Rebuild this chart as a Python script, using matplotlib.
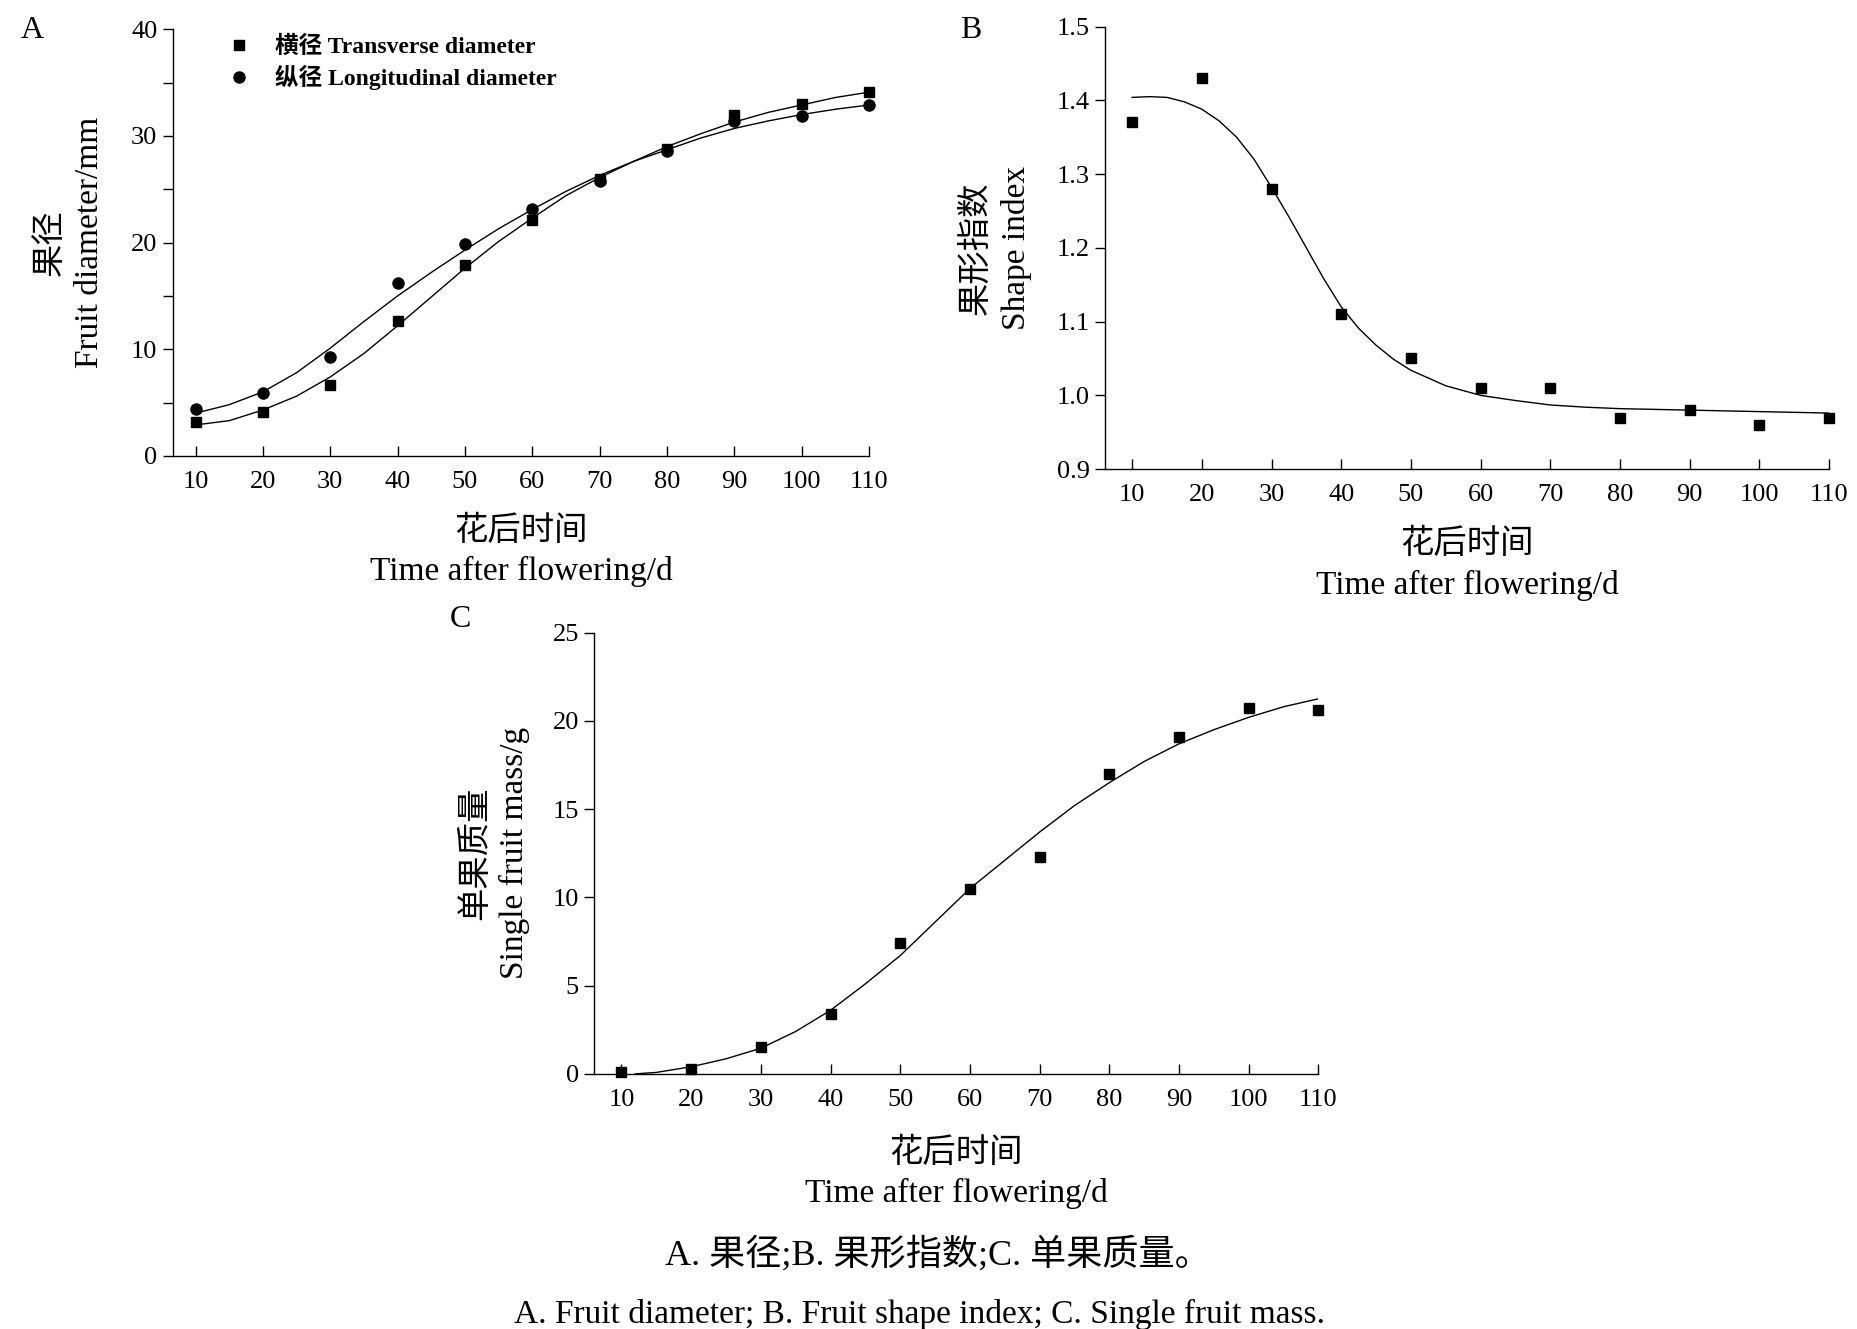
"""Fruit growth curves: diameter, shape index and single fruit mass vs days after flowering."""

import matplotlib

matplotlib.use("Agg")
import matplotlib.pyplot as plt
from matplotlib.ticker import MultipleLocator

plt.rcParams.update(
    {
        "font.family": ["Liberation Serif", "Noto Sans CJK SC"],
        "font.size": 20,
        "axes.spines.top": False,
        "axes.spines.right": False,
        "axes.linewidth": 1.0,
    }
)

# ---- data ----
days = [10, 20, 30, 40, 50, 60, 70, 80, 90, 100, 110]

transverse = [3.2, 4.1, 6.6, 12.6, 17.9, 22.1, 26.0, 28.8, 32.0, 33.0, 34.1]
longitudinal = [4.4, 5.9, 9.3, 16.2, 19.9, 23.1, 25.8, 28.6, 31.4, 31.9, 32.9]

curve_days = [10, 15, 20, 25, 30, 35, 40, 45, 50, 55, 60, 65, 70, 75, 80, 85, 90, 95, 100, 105, 110]
transverse_fit = [2.9, 3.3, 4.3, 5.6, 7.4, 9.6, 12.2, 14.9, 17.6, 20.1, 22.3,
                  24.4, 26.1, 27.6, 29.0, 30.2, 31.3, 32.2, 32.9, 33.6, 34.1]
longitudinal_fit = [4.0, 4.8, 6.0, 7.8, 10.1, 12.6, 15.0, 17.2, 19.3, 21.3, 23.1,
                    24.8, 26.3, 27.6, 28.7, 29.8, 30.7, 31.4, 32.0, 32.5, 32.9]

shape_index = [1.37, 1.43, 1.28, 1.11, 1.05, 1.01, 1.01, 0.97, 0.98, 0.96, 0.97]
shape_curve_days = [10, 12.5, 15, 17.5, 20, 22.5, 25, 27.5, 30, 32.5, 35, 37.5, 40, 42.5, 45,
                    47.5, 50, 55, 60, 65, 70, 75, 80, 90, 100, 110]
shape_fit = [1.404, 1.405, 1.404, 1.398, 1.388, 1.372, 1.350, 1.320, 1.282, 1.242, 1.200,
             1.158, 1.120, 1.091, 1.068, 1.049, 1.034, 1.013, 1.000,
             0.993, 0.987, 0.984, 0.982, 0.980, 0.978, 0.976]

mass = [0.1, 0.3, 1.5, 3.4, 7.4, 10.5, 12.3, 17.0, 19.1, 20.7, 20.6]
mass_curve_days = [12, 15, 20, 25, 30, 35, 40, 45, 50, 55, 60, 65, 70, 75, 80, 85, 90, 95, 100, 105, 110]
mass_fit = [0.0, 0.08, 0.4, 0.85, 1.45, 2.4, 3.6, 5.1, 6.7, 8.6, 10.5,
            12.1, 13.7, 15.2, 16.5, 17.7, 18.7, 19.5, 20.2, 20.8, 21.25]

X_TICKS = days
LABEL_FS = 24


def _style(ax, xmin, xpad=16):
    ax.set_xlim(xmin, 110)
    ax.set_xticks(X_TICKS)
    ax.tick_params(axis="x", direction="in", length=7, width=1, pad=11, labelsize=19)
    ax.tick_params(axis="y", which="both", direction="out", length=7, width=1, pad=4, labelsize=19)
    ax.set_xlabel("花后时间\nTime after flowering/d", fontsize=LABEL_FS, linespacing=1.4, labelpad=xpad)


def _marks(ax, x, y, **kw):
    ax.plot(x, y, ls="none", color="black", clip_on=False, zorder=3, **kw)


fig = plt.figure(figsize=(18.57, 13.29), dpi=100)

# ---- A: fruit diameter ----
ax_a = fig.add_axes([0.093, 0.657, 0.375, 0.321])
ax_a.plot(curve_days, transverse_fit, color="black", lw=1.0)
ax_a.plot(curve_days, longitudinal_fit, color="black", lw=1.0)
_marks(ax_a, days, transverse, marker="s", ms=7.5, label="横径 Transverse diameter")
_marks(ax_a, days, longitudinal, marker="o", ms=8, label="纵径 Longitudinal diameter")
ax_a.set_ylim(0, 40)
ax_a.yaxis.set_major_locator(MultipleLocator(10))
ax_a.yaxis.set_minor_locator(MultipleLocator(5))
_style(ax_a, 6.6)
ax_a.set_ylabel("果径\nFruit diameter/mm", fontsize=LABEL_FS, linespacing=1.35, labelpad=19)
ax_a.legend(loc="upper left", bbox_to_anchor=(0.048, 1.035), frameon=False,
            handletextpad=1.0, labelspacing=0.3, handlelength=1.0,
            prop={"family": ["Liberation Serif", "Noto Sans CJK SC"], "weight": "bold", "size": 17})

# ---- B: shape index ----
ax_b = fig.add_axes([0.595, 0.647, 0.390, 0.333])
ax_b.plot(shape_curve_days, shape_fit, color="black", lw=1.0)
_marks(ax_b, days, shape_index, marker="s", ms=7.5)
ax_b.set_ylim(0.9, 1.5)
ax_b.set_yticks([0.9, 1.0, 1.1, 1.2, 1.3, 1.4, 1.5])
ax_b.set_yticklabels(["0.9", "1.0", "1.1", "1.2", "1.3", "1.4", "1.5"])
_style(ax_b, 6.1)
ax_b.set_ylabel("果形指数\nShape index", fontsize=LABEL_FS, linespacing=1.35, labelpad=18)

# ---- C: single fruit mass ----
ax_c = fig.add_axes([0.320, 0.192, 0.390, 0.332])
ax_c.plot(mass_curve_days, mass_fit, color="black", lw=1.0)
_marks(ax_c, days, mass, marker="s", ms=7.5)
ax_c.set_ylim(0, 25)
ax_c.yaxis.set_major_locator(MultipleLocator(5))
_style(ax_c, 6.1, xpad=19)
ax_c.set_ylabel("单果质量\nSingle fruit mass/g", fontsize=LABEL_FS, linespacing=1.35, labelpad=16)

# ---- panel letters and caption ----
for x, y, letter in [(0.011, 0.977, "A"), (0.517, 0.977, "B"), (0.242, 0.534, "C")]:
    fig.text(x, y, letter, fontsize=23, ha="left", va="center")

fig.text(0.505, 0.056, "A. 果径;B. 果形指数;C. 单果质量。", fontsize=26, ha="center", va="center")
fig.text(0.495, 0.011, "A. Fruit diameter; B. Fruit shape index; C. Single fruit mass.",
         fontsize=24, ha="center", va="center")

fig.savefig("out.png", dpi=100)
